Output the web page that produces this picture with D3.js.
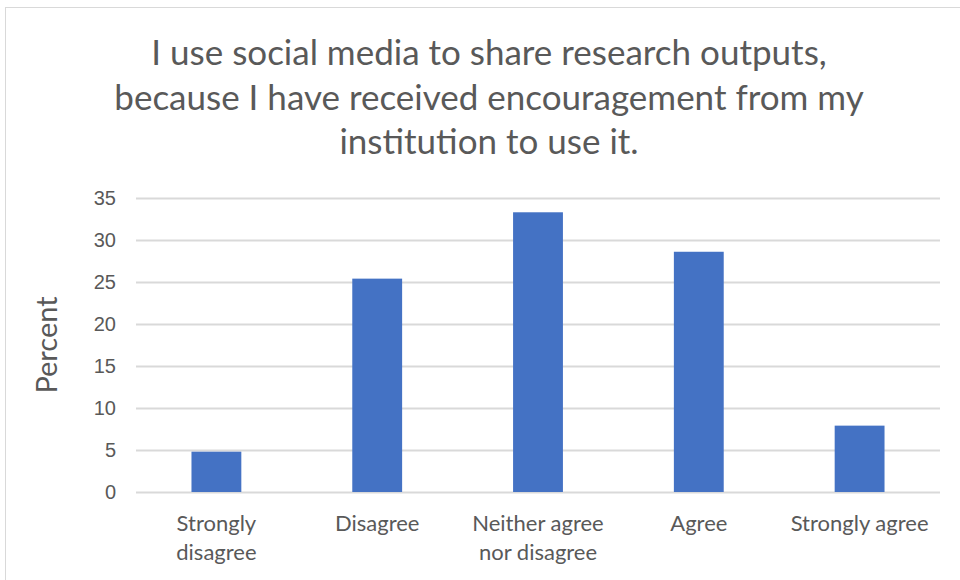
<!DOCTYPE html>
<html>
<head>
<meta charset="utf-8">
<script src="https://cdn.jsdelivr.net/npm/d3@7"></script>
<style>
  html, body { margin: 0; padding: 0; background: #fff; }
  svg { display: block; font-family: Lato, "Open Sans", sans-serif; }
</style>
</head>
<body>
<svg id="chart" width="960" height="580"></svg>
<script>
// data
const categories = [["Strongly", "disagree"], ["Disagree"], ["Neither agree", "nor disagree"], ["Agree"], ["Strongly agree"]];
const percents = [4.8, 25.4, 33.3, 28.6, 7.9];
const yTicks = [0, 5, 10, 15, 20, 25, 30, 35];
const titleLines = ["I use social media to share research outputs,",
  "because I have received encouragement from my",
  "institution to use it."];

const barColor = "#4472C4";
const gridColor = "#D9D9D9";
const textColor = "#595959";

const svg = d3.select("#chart");
const margin = {top: 198, right: 20, bottom: 88, left: 136};
const width = 960, height = 580;
const boundedWidth = width - margin.left - margin.right;
const boundedHeight = height - margin.top - margin.bottom;

// chart border
svg.append("rect")
  .attr("x", 5.5).attr("y", 7.5)
  .attr("width", 970).attr("height", 600)
  .style("fill", "none")
  .style("stroke", gridColor)
  .style("stroke-width", 1);

const g = svg.append("g")
  .attr("transform", `translate(${margin.left}, ${margin.top})`);

const xScale = d3.scaleBand()
  .domain(d3.range(categories.length))
  .range([0, boundedWidth])
  .paddingInner(0.69)
  .paddingOuter(0.345);

const yScale = d3.scaleLinear()
  .domain([0, 35])
  .range([boundedHeight, 0]);

// gridlines + y labels
const yAxis = d3.axisLeft(yScale)
  .tickValues(yTicks)
  .tickSize(-boundedWidth)
  .tickPadding(20);

g.append("g")
  .attr("class", "axis yaxis")
  .call(yAxis)
  .call(s => s.select(".domain").remove());

g.selectAll(".yaxis .tick line")
  .style("stroke", gridColor)
  .style("stroke-width", 2);

g.selectAll(".yaxis .tick text")
  .style("fill", textColor)
  .style("font-size", "20px");

// bars
g.selectAll(".bar")
  .data(percents)
  .enter()
  .append("rect")
  .attr("class", "bar")
  .attr("x", (d, i) => xScale(i))
  .attr("y", d => yScale(d))
  .attr("width", xScale.bandwidth())
  .attr("height", d => boundedHeight - yScale(d))
  .style("fill", barColor);

// category labels
const xLabels = g.selectAll(".cat-label")
  .data(categories)
  .enter()
  .append("text")
  .attr("class", "cat-label")
  .attr("text-anchor", "middle")
  .attr("transform", (d, i) => `translate(${xScale(i) + xScale.bandwidth() / 2}, ${boundedHeight + 39})`)
  .style("fill", textColor)
  .style("font-size", "22px");

xLabels.selectAll("tspan")
  .data(d => d)
  .enter()
  .append("tspan")
  .attr("x", 0)
  .attr("dy", (d, i) => i === 0 ? 0 : 29)
  .text(d => d);

// axis title
svg.append("text")
  .attr("transform", "translate(57, 345) rotate(-90)")
  .attr("text-anchor", "middle")
  .style("fill", textColor)
  .style("font-size", "29px")
  .text("Percent");

// chart title
svg.append("g")
  .selectAll("text")
  .data(titleLines)
  .enter()
  .append("text")
  .attr("x", 489)
  .attr("y", (d, i) => 65 + i * 44.5)
  .attr("text-anchor", "middle")
  .style("fill", textColor)
  .style("font-size", "35px")
  .text(d => d);
</script>
</body>
</html>
